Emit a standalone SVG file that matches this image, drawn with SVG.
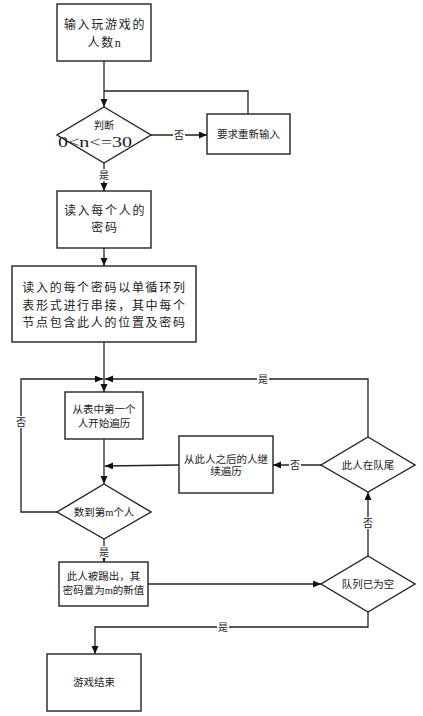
<svg xmlns="http://www.w3.org/2000/svg" width="423" height="716" viewBox="0 0 423 716">
<style>
.n{fill:#fff;stroke:#222;stroke-width:1.4}
.c{fill:none;stroke:#222;stroke-width:1.3}
.t{font-family:"Liberation Serif","Noto Sans CJK SC",serif;fill:#222;text-anchor:middle}
.big{font-size:12px;letter-spacing:1.7px}
.sm{font-size:10.5px}
.lb{font-size:10px}
.bg{fill:#fff}
</style>
<defs>
<marker id="a" markerUnits="userSpaceOnUse" markerWidth="9" markerHeight="8" refX="8" refY="3.5" orient="auto">
<path d="M0,0 L8,3.5 L0,7 z" fill="#111"/>
</marker>
</defs>
<rect width="423" height="716" fill="#fff"/>
<g id="connectors">
<path class="c" d="M104,61 V107" marker-end="url(#a)"/>
<path class="c" d="M248,114 V91 H104"/>
<path class="c" d="M151,135 H207" marker-end="url(#a)"/>
<path class="c" d="M104,163 V191" marker-end="url(#a)"/>
<path class="c" d="M104,248 V266" marker-end="url(#a)"/>
<path class="c" d="M104,342 V392" marker-end="url(#a)"/>
<path class="c" d="M57,512 H21 V379 H103" marker-end="url(#a)"/>
<path class="c" d="M368,437 V379 H105" marker-end="url(#a)"/>
<path class="c" d="M104,439 V484" marker-end="url(#a)"/>
<path class="c" d="M179,465 L105,466" marker-end="url(#a)"/>
<path class="c" d="M321,465 H273" marker-end="url(#a)"/>
<path class="c" d="M104,539 V562" marker-end="url(#a)"/>
<path class="c" d="M148,584 H321" marker-end="url(#a)"/>
<path class="c" d="M368,556 V492" marker-end="url(#a)"/>
<path class="c" d="M368,612 V627 H95 V654" marker-end="url(#a)"/>
<rect class="bg" x="173" y="129" width="12" height="12"/>
<text class="t lb" x="179" y="138.5">否</text>
<rect class="bg" x="98" y="169" width="12" height="12"/>
<text class="t lb" x="104" y="178.5">是</text>
<rect class="bg" x="15" y="416" width="12" height="12"/>
<text class="t lb" x="21" y="425.5">否</text>
<rect class="bg" x="257" y="373" width="12" height="12"/>
<text class="t lb" x="263" y="382.5">是</text>
<rect class="bg" x="289" y="459" width="12" height="12"/>
<text class="t lb" x="295" y="468.5">否</text>
<rect class="bg" x="98" y="546" width="12" height="12"/>
<text class="t lb" x="104" y="555.5">是</text>
<rect class="bg" x="362" y="517" width="12" height="12"/>
<text class="t lb" x="368" y="526.5">否</text>
<rect class="bg" x="217" y="621" width="12" height="12"/>
<text class="t lb" x="223" y="630.5">是</text>
</g>
<g id="input-n">
<rect class="n" x="57" y="4" width="94" height="57"/>
<text class="t big" x="105" y="29">输入玩游戏的</text>
<text class="t big" x="105" y="47">人数n</text>
</g>
<g id="check-n">
<polygon class="n" points="104,107 151,135 104,163 57,135"/>
<text class="t" style="font-size:10px" x="104" y="128.5">判断</text>
<text class="t" style="font-size:14px" x="95" y="147" textLength="74" lengthAdjust="spacingAndGlyphs">0&lt;n&lt;=30</text>
</g>
<g id="reinput">
<rect class="n" x="207" y="114" width="83" height="40"/>
<text class="t sm" x="248.5" y="138">要求重新输入</text>
</g>
<g id="read-pw">
<rect class="n" x="57" y="191" width="94" height="57"/>
<text class="t big" x="105" y="215">读入每个人的</text>
<text class="t big" x="105" y="232">密码</text>
</g>
<g id="build-list">
<rect class="n" x="12" y="266" width="184" height="76"/>
<text class="t big" x="104.5" y="292">读入的每个密码以单循环列</text>
<text class="t big" x="104.5" y="310">表形式进行串接，其中每个</text>
<text class="t big" x="104.5" y="327">节点包含此人的位置及密码</text>
</g>
<g id="start-traverse">
<rect class="n" x="65" y="392" width="78" height="47"/>
<text class="t sm" x="104" y="413">从表中第一个</text>
<text class="t sm" x="104" y="427">人开始遍历</text>
</g>
<g id="count-m">
<polygon class="n" points="104,484 151,512 104,539 57,512"/>
<text class="t sm" x="104" y="516">数到第m个人</text>
</g>
<g id="continue">
<rect class="n" x="179" y="436" width="94" height="57"/>
<text class="t sm" x="226" y="463">从此人之后的人继</text>
<text class="t sm" x="226" y="475">续遍历</text>
</g>
<g id="is-tail">
<polygon class="n" points="368,437 415,465 368,492 321,465"/>
<text class="t sm" x="368" y="469">此人在队尾</text>
</g>
<g id="kick-out">
<rect class="n" x="59" y="562" width="89" height="44"/>
<text class="t sm" x="103.5" y="580">此人被踢出，其</text>
<text class="t sm" x="103.5" y="594">密码置为m的新值</text>
</g>
<g id="is-empty">
<polygon class="n" points="368,556 415,584 368,612 321,584"/>
<text class="t sm" x="368" y="588">队列已为空</text>
</g>
<g id="end">
<rect class="n" x="47" y="654" width="94" height="57"/>
<text class="t sm" x="94" y="686">游戏结束</text>
</g>
</svg>
